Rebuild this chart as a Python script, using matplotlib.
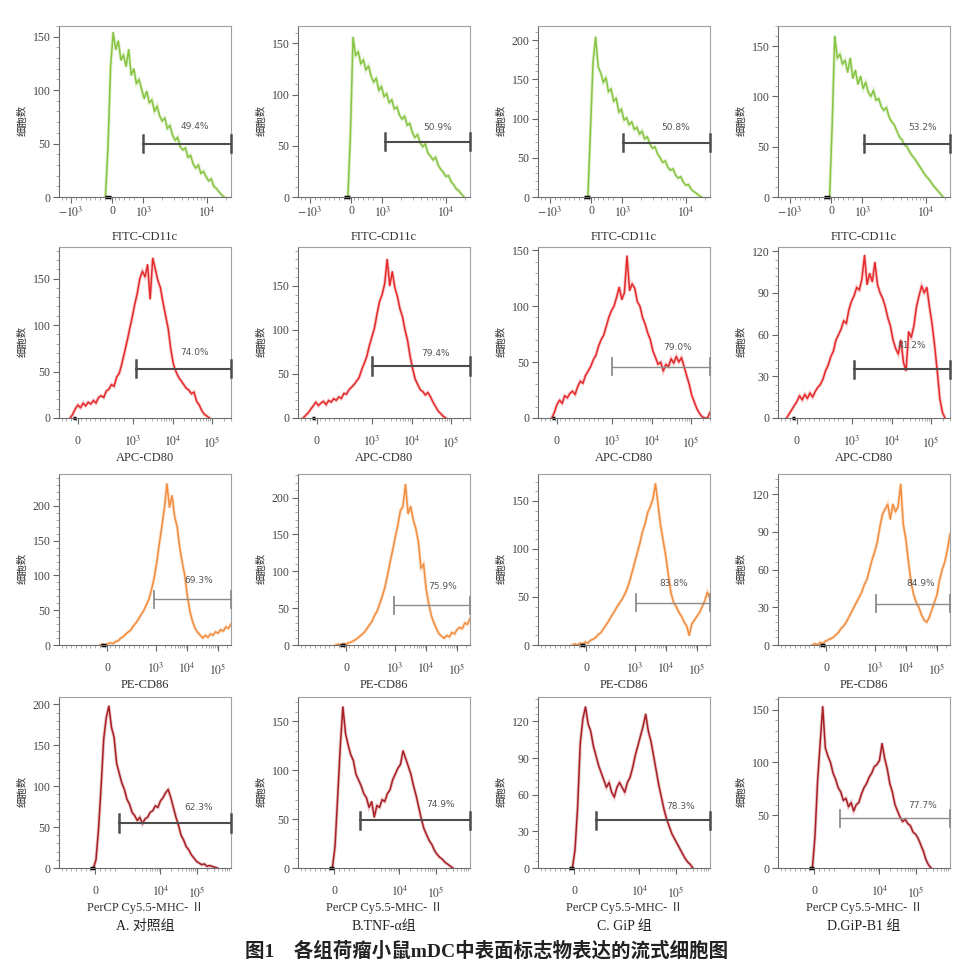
import numpy as np
import matplotlib.pyplot as plt
import matplotlib.transforms as mtransforms
from matplotlib.ticker import FixedLocator, MultipleLocator

plt.rcParams['font.family'] = ['Liberation Serif', 'Noto Sans CJK SC']
plt.rcParams['mathtext.fontset'] = 'stix'

# groups (columns) and markers (rows)
groups = ['A. 对照组', 'B.TNF-α组', 'C. GiP 组', 'D.GiP-B1 组']
markers = ['FITC-CD11c', 'APC-CD80', 'PE-CD86', 'PerCP Cy5.5-MHC- Ⅱ']
colors = ['#86c441', '#e42a2c', '#f28d3e', '#a82025']

# gated percentages
pct = [['49.4%', '50.9%', '50.8%', '53.2%'],
       ['74.0%', '79.4%', '79.0%', '81.2%'],
       ['69.3%', '75.9%', '83.8%', '84.9%'],
       ['62.3%', '74.9%', '78.3%', '77.7%']]

# x axis: channel position (0..1 of the plot width) of the labelled ticks
tick_pos = [[0.07, 0.31, 0.49, 0.86],
            [0.11, 0.43, 0.66, 0.89],
            [0.28, 0.565, 0.745, 0.925],
            [0.21, 0.59, 0.80]]
tick_lab = [[r'$-10^3$', '0', r'$10^3$', r'$10^4$'],
            ['0', r'$10^3$', r'$10^4$', r'$10^5$'],
            ['0', r'$10^3$', r'$10^4$', r'$10^5$'],
            ['0', r'$10^4$', r'$10^5$']]
decades = [[0.49, 0.86], [0.43, 0.66, 0.89], [0.565, 0.745, 0.925], [0.38, 0.59, 0.80]]
zero_blob = [(0.27, 0.30), (0.08, 0.10), (0.245, 0.275), (0.18, 0.21)]

# y axis tops and tick steps
ymax = [[160, 167, 218, 170],
        [184, 194, 153, 123],
        [246, 232, 178, 136],
        [209, 175, 140, 162]]
ystep = [[50, 50, 50, 50],
         [50, 50, 50, 30],
         [50, 50, 50, 30],
         [50, 50, 30, 50]]

# gate bar: start channel and height (counts)
gate_x = [[0.49, 0.505, 0.495, 0.50],
          [0.45, 0.43, 0.43, 0.44],
          [0.55, 0.56, 0.57, 0.57],
          [0.35, 0.36, 0.34, 0.36]]
gate_y = [[50, 54, 69, 53],
          [53, 59, 46, 35],
          [66, 54, 44, 33],
          [55, 49, 39, 47]]
pct_x = [[0.79, 0.81, 0.80, 0.84],
         [0.79, 0.80, 0.81, 0.78],
         [0.81, 0.84, 0.79, 0.83],
         [0.81, 0.83, 0.83, 0.84]]
pct_y = [[66, 68, 88, 69],
         [70, 73, 63, 52],
         [93, 79, 64, 49],
         [74, 65, 50, 59]]

# histogram ranges (first and last channel) and counts
span = [[(0.27, 0.96), (0.29, 0.965), (0.29, 0.95), (0.30, 0.96)],
        [(0.065, 0.875), (0.03, 0.859), (0.08, 1.0), (0.05, 0.971)],
        [(0.24, 1.0), (0.22, 1.0), (0.20, 1.0), (0.20, 1.0)],
        [(0.20, 0.92), (0.20, 0.90), (0.20, 0.90), (0.20, 0.89)]]

cd11c_a = [0, 48, 122, 154, 138, 146, 128, 133, 122, 138, 114, 120, 106, 110, 101, 92,
           99, 88, 91, 80, 85, 76, 71, 74, 64, 67, 58, 53, 56, 47, 44, 46, 37, 39, 31,
           27, 30, 22, 24, 19, 15, 17, 10, 8, 5, 2, 0]
cd11c_b = [0, 62, 156, 138, 142, 130, 134, 124, 128, 118, 112, 116, 104, 108, 98, 101,
           92, 95, 86, 88, 80, 76, 79, 70, 72, 63, 58, 61, 53, 49, 52, 43, 40, 36, 39,
           31, 27, 24, 20, 21, 15, 12, 8, 6, 3, 0]
cd11c_c = [0, 85, 172, 204, 166, 158, 146, 152, 134, 138, 122, 126, 108, 112, 98, 101,
           92, 96, 86, 89, 80, 84, 74, 77, 68, 62, 64, 55, 50, 44, 46, 38, 34, 36, 28,
           24, 26, 19, 15, 16, 10, 7, 5, 2, 0]
cd11c_d = [0, 72, 160, 138, 142, 132, 136, 124, 138, 118, 126, 112, 120, 108, 114, 104,
           100, 106, 96, 98, 90, 86, 89, 80, 75, 72, 66, 60, 57, 52, 50, 45, 41, 38, 34,
           30, 26, 22, 19, 16, 12, 9, 6, 3, 0]

cd80_a = [0, 4, 10, 14, 11, 16, 13, 17, 15, 19, 16, 22, 24, 22, 29, 31, 36, 34, 44, 48,
          58, 70, 82, 95, 108, 122, 134, 150, 158, 152, 165, 128, 172, 160, 148, 140,
          124, 110, 96, 74, 58, 50, 44, 40, 36, 32, 30, 26, 28, 18, 14, 8, 4, 2, 0]
cd80_b = [0, 3, 6, 10, 14, 18, 14, 17, 19, 15, 20, 18, 22, 20, 24, 22, 28, 27, 32, 35,
          38, 42, 46, 55, 62, 70, 82, 92, 102, 118, 132, 140, 152, 180, 150, 166, 148,
          138, 124, 115, 100, 88, 70, 56, 44, 38, 32, 30, 26, 29, 24, 18, 13, 8, 5, 2, 0]
cd80_c = [0, 5, 12, 16, 13, 20, 18, 22, 24, 21, 28, 33, 31, 38, 42, 46, 52, 56, 64, 70,
          74, 82, 90, 96, 100, 108, 117, 106, 112, 145, 114, 120, 116, 104, 100, 90, 84,
          76, 70, 60, 54, 48, 50, 42, 48, 46, 53, 49, 55, 50, 54, 46, 38, 30, 20, 14, 8,
          4, 1, 0, 0, 5]
cd80_d = [0, 3, 6, 9, 12, 16, 13, 17, 14, 18, 15, 19, 22, 24, 28, 34, 38, 44, 48, 56,
          60, 64, 70, 68, 78, 84, 88, 94, 92, 100, 117, 96, 104, 98, 112, 96, 90, 86, 80,
          72, 66, 56, 50, 46, 56, 40, 34, 62, 58, 66, 80, 88, 95, 90, 94, 80, 68, 52, 34,
          14, 4, 0]

cd86_a = [0, 1, 0, 2, 3, 2, 5, 6, 10, 12, 16, 19, 22, 28, 32, 38, 44, 50, 58, 66, 80,
          96, 118, 145, 170, 196, 232, 198, 215, 185, 170, 140, 118, 100, 70, 48, 34, 24,
          18, 14, 10, 14, 11, 16, 14, 19, 17, 22, 20, 26, 24, 30]
cd86_b = [0, 1, 0, 2, 1, 3, 4, 6, 8, 11, 14, 17, 22, 27, 32, 40, 46, 56, 66, 78, 94,
          112, 128, 146, 162, 182, 188, 218, 178, 188, 170, 158, 140, 104, 110, 76, 56,
          40, 30, 22, 15, 12, 9, 13, 11, 17, 15, 21, 24, 22, 30, 28, 36]
cd86_c = [0, 1, 0, 2, 1, 3, 2, 5, 6, 8, 11, 13, 17, 21, 25, 30, 34, 39, 43, 47, 52, 58,
          66, 76, 86, 96, 106, 118, 126, 138, 144, 152, 168, 146, 124, 108, 92, 72, 54,
          44, 40, 34, 30, 24, 20, 10, 22, 26, 30, 34, 40, 46, 55, 48]
cd86_d = [0, 1, 0, 2, 1, 3, 4, 5, 6, 8, 10, 13, 15, 18, 22, 26, 30, 34, 38, 42, 48, 52,
          60, 68, 74, 82, 94, 104, 108, 112, 100, 112, 106, 110, 128, 96, 84, 66, 50, 40,
          34, 30, 24, 20, 18, 22, 28, 34, 40, 52, 60, 66, 76, 88]

mhc_a = [0, 10, 48, 100, 158, 184, 198, 172, 160, 128, 116, 104, 96, 84, 78, 68, 64,
         58, 62, 54, 60, 62, 68, 70, 76, 74, 82, 86, 92, 96, 86, 74, 62, 52, 40, 34, 26,
         22, 16, 12, 8, 6, 4, 5, 2, 3, 2, 1, 0]
mhc_b = [0, 22, 72, 124, 165, 138, 126, 116, 110, 96, 90, 84, 76, 72, 62, 68, 52, 64,
         62, 70, 68, 76, 80, 90, 96, 102, 106, 120, 112, 104, 96, 84, 74, 62, 50, 40, 34,
         28, 24, 18, 14, 11, 9, 6, 4, 2, 0]
mhc_c = [0, 15, 50, 102, 122, 132, 118, 112, 100, 92, 84, 78, 72, 66, 70, 62, 58, 66,
         70, 66, 62, 70, 74, 82, 92, 100, 108, 116, 126, 112, 104, 92, 80, 68, 58, 48, 40,
         34, 28, 24, 20, 16, 12, 8, 5, 3, 0]
mhc_d = [0, 30, 82, 118, 153, 114, 106, 100, 90, 84, 76, 72, 64, 66, 58, 62, 54, 60, 62,
         70, 76, 80, 86, 90, 96, 98, 102, 118, 104, 94, 80, 72, 60, 54, 48, 44, 46, 42,
         40, 34, 32, 28, 22, 16, 8, 3, 0]

counts = [[cd11c_a, cd11c_b, cd11c_c, cd11c_d],
          [cd80_a, cd80_b, cd80_c, cd80_d],
          [cd86_a, cd86_b, cd86_c, cd86_d],
          [mhc_a, mhc_b, mhc_c, mhc_d]]

# light grey gates where the original bar is faint
faint = [[0, 0, 0, 0], [0, 0, 1, 0], [1, 1, 1, 1], [0, 0, 0, 1]]


def minor_ticks(dec):
    step = dec[1] - dec[0]
    out = []
    for d in dec:
        out += [d + step * np.log10(k) for k in range(2, 10)]
    out = [v for v in out if v < 1.0]
    out += list(np.arange(0.015, dec[0] - 0.03, 0.028))
    return out


fig = plt.figure(figsize=(9.6, 9.72), dpi=100)
lefts = [59, 298, 538, 778]
tops = [26, 247, 474, 697]
W, H = 172, 171

for r in range(4):
    for c in range(4):
        ax = fig.add_axes([lefts[c] / 960, 1 - (tops[r] + H) / 972, W / 960, H / 972])
        cnt = counts[r][c]
        x = np.linspace(span[r][c][0], span[r][c][1], len(cnt))
        ax.plot(x, cnt, color=colors[r], lw=2.4, alpha=0.25, solid_joinstyle='miter')
        ax.plot(x, cnt, color=colors[r], lw=1.1)

        ym = ymax[r][c]
        ax.set_xlim(0, 1)
        ax.set_ylim(0, ym)

        # gate bar
        if faint[r][c]:
            bc, blw = '#8c8c8c', 1.0
        else:
            bc, blw = '#4d4d4d', 1.5
        g0, gy = gate_x[r][c], gate_y[r][c]
        ax.plot([g0, 1.0], [gy, gy], color=bc, lw=blw, clip_on=False, zorder=3)
        for gx in (g0, 1.0):
            ax.plot([gx, gx], [gy - 0.05 * ym, gy + 0.05 * ym], color=bc,
                    lw=blw + 0.3, clip_on=False, zorder=3)
        ax.text(pct_x[r][c], pct_y[r][c], pct[r][c], fontsize=6.5, color='#555555',
                family='DejaVu Sans', ha='center', va='center')

        # axes styling
        for s in ax.spines.values():
            s.set_color('#a0a0a0')
            s.set_linewidth(0.8)
        ax.spines['left'].set_color('#6e6e6e')
        ax.spines['bottom'].set_color('#6e6e6e')

        ax.yaxis.set_major_locator(MultipleLocator(ystep[r][c]))
        ax.yaxis.set_minor_locator(MultipleLocator(ystep[r][c] / 5))
        ax.xaxis.set_major_locator(FixedLocator(tick_pos[r]))
        ax.set_xticklabels(tick_lab[r])
        ax.xaxis.set_minor_locator(FixedLocator(minor_ticks(decades[r])))
        ax.tick_params(which='major', direction='out', length=4, width=0.8,
                       color='#666666', labelsize=8.5, labelcolor='#444444')
        ax.tick_params(which='minor', direction='out', length=2, width=0.5,
                       color='#888888')
        ax.tick_params(axis='y', pad=2)
        ax.tick_params(axis='x', pad=2 if r == 0 else 8)

        trans = mtransforms.blended_transform_factory(ax.transData, ax.transAxes)
        ax.plot(zero_blob[r], [0, 0], color='black', lw=2.5, transform=trans,
                clip_on=False, solid_capstyle='butt')

        ax.set_ylabel('细胞数', family='Noto Sans CJK SC', fontsize=7.5, color='#333333')
        ax.yaxis.set_label_coords(-0.185, 0.45)
        ax.set_xlabel(markers[r], fontsize=9, color='#333333')
        ax.xaxis.set_label_coords(0.5, -0.2)

        if r == 3:
            fig.text((lefts[c] + W / 2) / 960, 1 - 926 / 972, groups[c], fontsize=10,
                     color='#222222', ha='center', va='center')

fig.text(0.507, 1 - 951 / 972, '图1\u3000各组荷瘤小鼠mDC中表面标志物表达的流式细胞图',
         family=['Liberation Serif', 'Noto Sans CJK SC'], fontweight='bold',
         fontsize=14, color='#222222', ha='center', va='center')

fig.savefig('out.png', dpi=100, facecolor='white')
